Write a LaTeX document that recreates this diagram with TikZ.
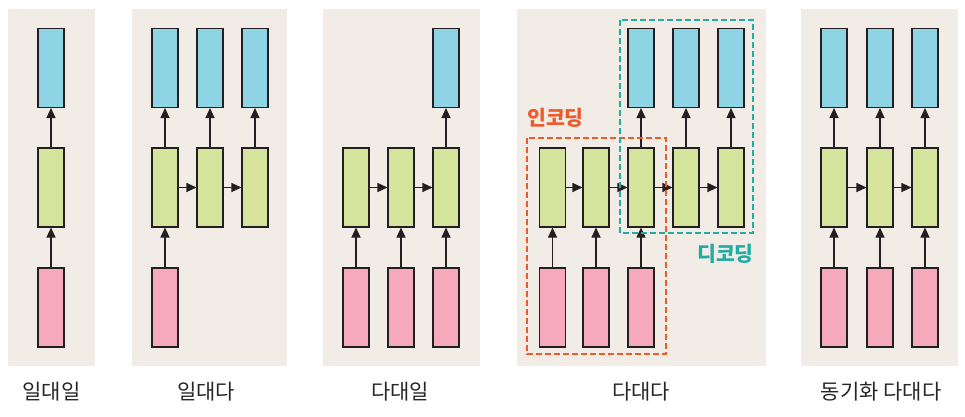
\documentclass[tikz,border=0pt]{standalone}
\usepackage{fontspec}
\setmainfont{Noto Sans CJK KR}
\usetikzlibrary{arrows.meta}
\definecolor{panelbg}{HTML}{F1ECE6}
\definecolor{outblue}{HTML}{8ED4E4}
\definecolor{hidgreen}{HTML}{D4E49C}
\definecolor{inpink}{HTML}{F7A9BC}
\definecolor{encorange}{HTML}{EC5B2C}
\definecolor{decteal}{HTML}{22ADA2}
\definecolor{edge}{HTML}{231F20}
\begin{document}
\begin{tikzpicture}[x=1pt,y=-1pt,
  cell/.style={draw=edge,line width=1.1pt,minimum width=26pt,minimum height=79pt,inner sep=0pt},
  outcell/.style={cell,fill=outblue},
  hidcell/.style={cell,fill=hidgreen},
  incell/.style={cell,fill=inpink},
  flow/.style={draw=edge,line width=1.1pt,-{Triangle[length=10pt,width=9pt]}},
  panel/.style={fill=panelbg,draw=none},
  title/.style={font=\fontsize{21}{24}\selectfont,text=black!85},
  group/.style={line width=1.8pt,dash pattern=on 6pt off 3pt}]
\useasboundingbox (0,0) rectangle (965,417);
% panels
\fill[panel] (8,9) rectangle (95,366);
\fill[panel] (132,9) rectangle (287,366);
\fill[panel] (323,9) rectangle (480,366);
\fill[panel] (517,9) rectangle (766,366);
\fill[panel] (801,9) rectangle (958,366);
% ---- panel 1: one-to-one
\node[outcell] (a1o) at (51,68) {};
\node[hidcell] (a1h) at (51,187.5) {};
\node[incell] (a1i) at (51,307.5) {};
\draw[flow] (a1h) -- (a1o);
\draw[flow] (a1i) -- (a1h);
\node[title] (t1) at (51.5,392) {일대일};
% ---- panel 2: one-to-many
\foreach \n/\x in {1/165,2/210,3/255}{
  \node[outcell] (b\n o) at (\x,68) {};
  \node[hidcell] (b\n h) at (\x,187.5) {};
  \draw[flow] (b\n h) -- (b\n o);
}
\node[incell] (b1i) at (165,307.5) {};
\draw[flow] (b1i) -- (b1h);
\draw[flow] (b1h) -- (b2h);
\draw[flow] (b2h) -- (b3h);
\node[title] (t2) at (206,392) {일대다};
% ---- panel 3: many-to-one
\foreach \n/\x in {1/356,2/401,3/446}{
  \node[hidcell] (c\n h) at (\x,187.5) {};
  \node[incell] (c\n i) at (\x,307.5) {};
  \draw[flow] (c\n i) -- (c\n h);
}
\node[outcell] (c3o) at (446,68) {};
\draw[flow] (c3h) -- (c3o);
\draw[flow] (c1h) -- (c2h);
\draw[flow] (c2h) -- (c3h);
\node[title] (t3) at (400,392) {다대일};
% ---- panel 4: many-to-many (encoder-decoder)
\foreach \n/\x in {1/552.5,2/596,3/641,4/686,5/731}{
  \node[hidcell] (d\n h) at (\x,187.5) {};
}
\foreach \n in {1,2,3}{
  \node[incell] (d\n i) at (d\n h |- 0,307.5) {};
  \draw[flow] (d\n i) -- (d\n h);
}
\foreach \n in {3,4,5}{
  \node[outcell] (d\n o) at (d\n h |- 0,68) {};
  \draw[flow] (d\n h) -- (d\n o);
}
\draw[flow] (d1h) -- (d2h);
\draw[flow] (d2h) -- (d3h);
\draw[flow] (d3h) -- (d4h);
\draw[flow] (d4h) -- (d5h);
\draw[group,draw=encorange] (527,138) rectangle (666,354);
\draw[group,draw=decteal] (620,20) rectangle (753,233);
\node[font=\fontsize{20.5}{23}\selectfont\bfseries,text=encorange] (enc) at (555.5,118) {인코딩};
\node[font=\fontsize{20.5}{23}\selectfont\bfseries,text=decteal] (dec) at (725.5,254) {디코딩};
\node[title] (t4) at (641,392) {다대다};
% ---- panel 5: synced many-to-many
\foreach \n/\x in {1/834,2/880,3/925}{
  \node[outcell] (e\n o) at (\x,68) {};
  \node[hidcell] (e\n h) at (\x,187.5) {};
  \node[incell] (e\n i) at (\x,307.5) {};
  \draw[flow] (e\n h) -- (e\n o);
  \draw[flow] (e\n i) -- (e\n h);
}
\draw[flow] (e1h) -- (e2h);
\draw[flow] (e2h) -- (e3h);
\node[title] (t5) at (881,392) {동기화 다대다};
\end{tikzpicture}
\end{document}
